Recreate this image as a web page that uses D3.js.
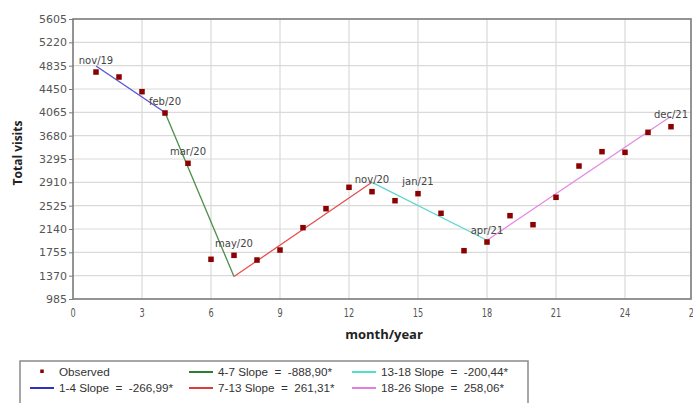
<!DOCTYPE html>
<html><head><meta charset="utf-8">
<script src="https://cdn.jsdelivr.net/npm/d3@7"></script>
<style>body{margin:0;background:#fff}svg{display:block}</style>
</head><body>
<svg id="c" width="693" height="403"></svg>
<script>
const months = [1,2,3,4,5,6,7,8,9,10,11,12,13,14,15,16,17,18,19,20,21,22,23,24,25,26];
const visits = [4730,4648,4406,4054,3224,1640,1706,1628,1793,2162,2475,2828,2756,2607,2723,2399,1782,1925,2360,2211,2663,3179,3416,3405,3735,3828];
const joinMonths = [1,4,7,13,18,26];
const joinValues = [4830,4062,1355,2910,1955,4000];
const segColors = ["#5454d8","#4a8f4a","#e65050","#5ed8cc","#e28ae2"];
const legendColors = ["#2f2fc8","#2e7d2e","#e03a3a","#4fe0cc","#e07fe0"];
const segLabels = ["1-4 Slope  =  -266,99*","4-7 Slope  =  -888,90*","7-13 Slope  =  261,31*","13-18 Slope  =  -200,44*","18-26 Slope  =  258,06*"];
const labelMonths = [1,4,5,7,13,15,18,26];
const labelTexts = ["nov/19","feb/20","mar/20","may/20","nov/20","jan/21","apr/21","dec/21"];
const yTicks = [985,1370,1755,2140,2525,2910,3295,3680,4065,4450,4835,5220,5605];
const xTicks = [0,3,6,9,12,15,18,21,24,27];

const svg = d3.select("#c");
const x = d3.scaleLinear().domain([0,27]).range([73,694]);
const y = d3.scaleLinear().domain([985,5605]).range([299,19]);
const plotRight = 691;

// grid
const g = svg.append("g");
g.selectAll(".gx").data(xTicks.filter(d=>d>0 && x(d)<plotRight)).enter().append("line")
  .attr("x1",d=>x(d)).attr("x2",d=>x(d)).attr("y1",y(985)).attr("y2",y(5605))
  .attr("stroke","#d9d9d9").attr("stroke-width",1.2);
g.selectAll(".gy").data(yTicks.slice(1,-1)).enter().append("line")
  .attr("x1",x(0)).attr("x2",plotRight).attr("y1",d=>y(d)).attr("y2",d=>y(d))
  .attr("stroke","#d9d9d9").attr("stroke-width",1.2);

// frame
svg.append("rect").attr("x",x(0)).attr("y",y(5605)).attr("width",plotRight-x(0)).attr("height",y(985)-y(5605))
  .attr("fill","none").attr("stroke","#7a7a7a").attr("stroke-width",1.6);

// y axis
const yAxis = d3.axisLeft(y).tickValues(yTicks).tickSize(4).tickPadding(2).tickFormat(d3.format("d"));
const ya = svg.append("g").attr("transform",`translate(${x(0)},0)`).call(yAxis);
ya.select(".domain").remove();
ya.selectAll("line").attr("stroke","#7a7a7a");
ya.selectAll("text").attr("font-family","DejaVu Sans").attr("font-size",11).attr("fill","#555");

// x axis
const xAxis = d3.axisBottom(x).tickValues(xTicks).tickSize(0).tickPadding(9);
const xa = svg.append("g").attr("transform",`translate(0,${y(985)})`).call(xAxis);
xa.select(".domain").remove();
xa.selectAll(".tick").each(function(d){
  const t=d3.select(this); const tx=x(d);
  t.attr("transform",null);
  t.select("text").attr("x",0).attr("transform",`translate(${tx},0) scale(0.68,1)`)
    .attr("font-family","DejaVu Sans").attr("font-size",12).attr("fill","#555");
});

// titles
svg.append("text").attr("transform","translate(22,153) rotate(-90)").attr("text-anchor","middle")
  .attr("font-family","Open Sans").attr("font-weight","bold").attr("font-size",12).attr("fill","#222").text("Total visits");
svg.append("text").attr("x",384).attr("y",339).attr("text-anchor","middle")
  .attr("font-family","Open Sans").attr("font-weight","bold").attr("font-size",13).attr("fill","#222").text("month/year");

// segments
const segs = d3.range(joinMonths.length-1).map(i=>({i, a:[joinMonths[i],joinValues[i]], b:[joinMonths[i+1],joinValues[i+1]]}));
svg.selectAll(".seg").data(segs).enter().append("line")
  .attr("x1",d=>x(d.a[0])).attr("y1",d=>y(d.a[1])).attr("x2",d=>x(d.b[0])).attr("y2",d=>y(d.b[1]))
  .attr("stroke",d=>segColors[d.i]).attr("stroke-width",1.3);

// points
const pts = months.map((m,i)=>({m, v:visits[i]}));
const s = 5.5;
svg.selectAll(".pt").data(pts).enter().append("rect")
  .attr("x",d=>x(d.m)-s/2).attr("y",d=>y(d.v)-s/2).attr("width",s).attr("height",s)
  .attr("fill","#8b0000");

// point labels
svg.selectAll(".pl").data(labelMonths.map((m,i)=>({m,t:labelTexts[i]}))).enter().append("text")
  .attr("x",d=>x(d.m)).attr("y",d=>y(visits[months.indexOf(d.m)])-8.5)
  .attr("text-anchor","middle").attr("font-family","DejaVu Sans").attr("font-size",10).attr("fill","#444")
  .text(d=>d.t);

// legend
const lg = svg.append("g");
lg.append("rect").attr("x",20).attr("y",361).attr("width",508).attr("height",60)
  .attr("fill","#fff").attr("stroke","#8a8a8a").attr("stroke-width",1.5);
const items = [{type:"pt",label:"Observed"}].concat(segLabels.map((l,i)=>({type:"ln",label:l,c:legendColors[i]})));
const colX = [30,189,352];
const rowY = [373,389];
items.forEach((it,k)=>{
  const col=Math.floor(k/2), row=k%2;
  const lx=colX[col], ly=rowY[row];
  if(it.type==="pt"){
    lg.append("rect").attr("x",lx+12-1.75).attr("y",ly-3.5).attr("width",3.5).attr("height",3.5).attr("fill","#8b0000");
  } else {
    lg.append("line").attr("x1",lx).attr("x2",lx+24).attr("y1",ly-1).attr("y2",ly-1).attr("stroke",it.c).attr("stroke-width",2);
  }
  lg.append("text").attr("x",lx+29).attr("y",ly+3).attr("font-family","Liberation Sans").attr("font-size",11.7)
    .attr("fill","#333").style("white-space","pre").text(it.label);
});
</script>
</body></html>
